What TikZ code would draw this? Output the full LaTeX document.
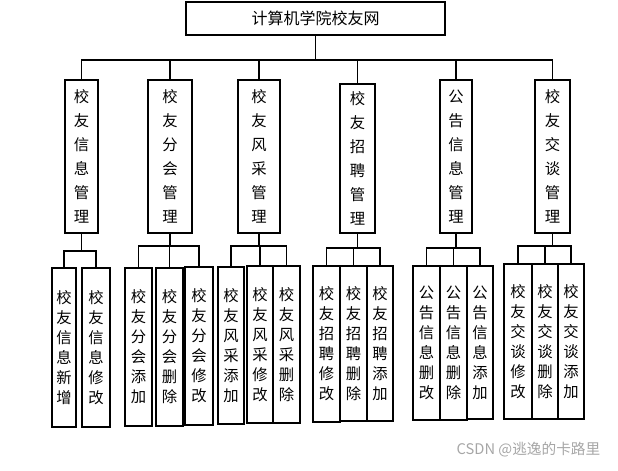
\documentclass[tikz,border=0pt]{standalone}
\usepackage{fontspec}
\setmainfont{Noto Sans CJK SC}
\begin{document}
\begin{tikzpicture}[x=0.75pt,y=-0.75pt,
  box/.style={draw,line width=0.8pt,inner sep=0pt,align=center,font=\fontsize{11.5}{15}\selectfont},
  mid/.style={box,font=\fontsize{11.5}{18}\selectfont},
  conn/.style={draw,line width=0.8pt}]
\useasboundingbox (0,0) rectangle (618,471);
\newcommand\bx[7][box]{\node[#1,minimum width={(#5-#3)*0.75pt},minimum height={(#6-#4)*0.75pt}] (#2) at ({(#3+#5)/2},{(#4+#6)/2}) {#7};}
\bx{top}{186}{2}{445}{35}{\fontsize{12}{14}\selectfont 计算机学院校友网}
\bx[mid]{a}{65}{80}{98}{233}{校\\友\\信\\息\\管\\理}
\bx[mid]{b}{148}{80}{192}{233}{校\\友\\分\\会\\管\\理}
\bx[mid]{c}{238}{80}{280}{233}{校\\友\\风\\采\\管\\理}
\bx[mid]{d}{340}{84}{375}{233}{校\\友\\招\\聘\\管\\理}
\bx[mid]{e}{440}{80}{472}{233}{公\\告\\信\\息\\管\\理}
\bx[mid]{f}{535}{80}{570}{233}{校\\友\\交\\谈\\管\\理}
\foreach \n in {a,b,c,d,e,f}{\draw[conn] (top.south) -- (top.south |- 0,60) -| (\n.north);}
% group 1
\bx{a1}{52}{268}{76}{427}{校\\友\\信\\息\\新\\增}
\bx{a2}{82}{268}{110}{427}{校\\友\\信\\息\\修\\改}
% group 2
\bx{b1}{125}{268}{152}{426}{校\\友\\分\\会\\添\\加}
\bx{b2}{156}{268}{183}{426}{校\\友\\分\\会\\删\\除}
\bx{b3}{185}{267}{213}{425}{校\\友\\分\\会\\修\\改}
% group 3
\bx{c1}{218}{267}{244}{424}{校\\友\\风\\采\\添\\加}
\bx{c2}{247}{266}{273}{423}{校\\友\\风\\采\\修\\改}
\bx{c3}{273}{266}{300}{423}{校\\友\\风\\采\\删\\除}
% group 4
\bx{d1}{313}{266}{340}{422}{校\\友\\招\\聘\\修\\改}
\bx{d2}{340}{266}{367}{421}{校\\友\\招\\聘\\删\\除}
\bx{d3}{367}{266}{393}{421}{校\\友\\招\\聘\\添\\加}
% group 5
\bx{e1}{413}{266}{440}{420}{公\\告\\信\\息\\删\\改}
\bx{e2}{440}{266}{467}{420}{公\\告\\信\\息\\删\\除}
\bx{e3}{467}{266}{493}{419}{公\\告\\信\\息\\添\\加}
% group 6
\bx{f1}{504}{264}{532}{419}{校\\友\\交\\谈\\修\\改}
\bx{f2}{532}{264}{558}{419}{校\\友\\交\\谈\\删\\除}
\bx{f3}{558}{264}{584}{419}{校\\友\\交\\谈\\添\\加}
\foreach \p/\y/\cs in {a/251/{a1,a2},b/246/{b1,b2,b3},c/246/{c1,c2,c3},d/248/{d1,d2,d3},e/248/{e1,e2,e3},f/246/{f1,f2,f3}}{
  \foreach \c in \cs {\draw[conn] (\p.south) -- (\p.south |- 0,\y) -| (\c.north);}
}
\node[text=gray!70,font=\fontsize{11}{12}\selectfont,anchor=east] (wm) at (605,450) {CSDN @逃逸的卡路里};
\end{tikzpicture}
\end{document}
